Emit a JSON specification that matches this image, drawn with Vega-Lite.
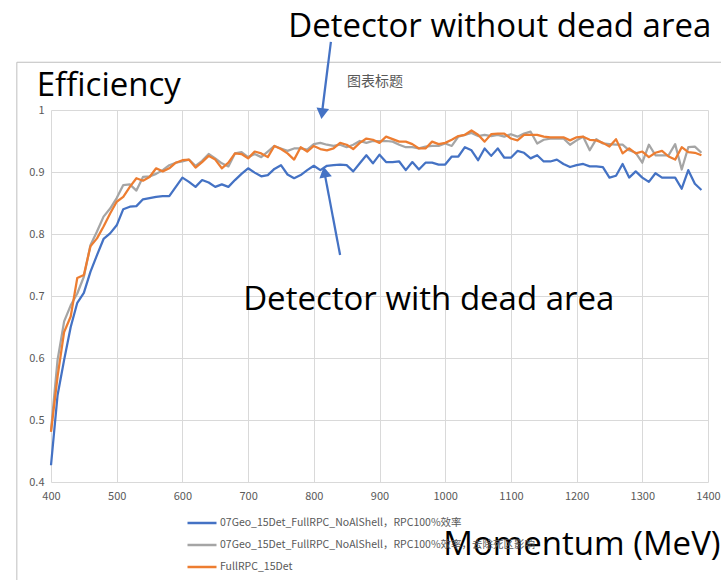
{
  "$schema": "https://vega.github.io/schema/vega-lite/v6.json",
  "width": 657,
  "height": 372,
  "autosize": {"type": "none"},
  "padding": {"left": 51, "top": 110, "right": 13, "bottom": 98},
  "background": "white",
  "config": {
    "view": {"stroke": null},
    "axis": {"gridColor": "#D9D9D9", "gridWidth": 1, "domain": false, "ticks": false, "labelColor": "#595959", "labelFont": "Noto Sans CJK SC", "labelFontSize": 11, "title": null, "labelFlush": false}
  },
  "layer": [
    {
      "data": {"values": [{"x1": 348, "x2": 1450, "y1": 1.077, "y2": 0.15}]},
      "mark": {"type": "rect", "fill": null, "stroke": "#BFBFBF", "strokeWidth": 1, "clip": false},
      "encoding": {
        "x": {"field": "x1", "type": "quantitative"},
        "x2": {"field": "x2"},
        "y": {"field": "y1", "type": "quantitative"},
        "y2": {"field": "y2"}
      }
    },
    {
      "data": {"values": [
{"p":400,"blue":0.427,"gray":0.483,"orange":0.481},
{"p":410,"blue":0.540,"gray":0.597,"orange":0.570},
{"p":420,"blue":0.597,"gray":0.659,"orange":0.642},
{"p":430,"blue":0.650,"gray":0.685,"orange":0.667},
{"p":440,"blue":0.689,"gray":0.704,"orange":0.729},
{"p":450,"blue":0.705,"gray":0.731,"orange":0.734},
{"p":460,"blue":0.739,"gray":0.782,"orange":0.780},
{"p":470,"blue":0.766,"gray":0.804,"orange":0.793},
{"p":480,"blue":0.792,"gray":0.828,"orange":0.812},
{"p":490,"blue":0.801,"gray":0.841,"orange":0.833},
{"p":500,"blue":0.814,"gray":0.858,"orange":0.852},
{"p":510,"blue":0.840,"gray":0.879,"orange":0.860},
{"p":520,"blue":0.844,"gray":0.880,"orange":0.876},
{"p":530,"blue":0.845,"gray":0.870,"orange":0.890},
{"p":540,"blue":0.856,"gray":0.892,"orange":0.886},
{"p":550,"blue":0.858,"gray":0.893,"orange":0.892},
{"p":560,"blue":0.860,"gray":0.897,"orange":0.906},
{"p":570,"blue":0.861,"gray":0.903,"orange":0.901},
{"p":580,"blue":0.861,"gray":0.911,"orange":0.906},
{"p":590,"blue":0.876,"gray":0.915,"orange":0.915},
{"p":600,"blue":0.891,"gray":0.917,"orange":0.919},
{"p":610,"blue":0.884,"gray":0.920,"orange":0.920},
{"p":620,"blue":0.876,"gray":0.910,"orange":0.907},
{"p":630,"blue":0.887,"gray":0.918,"orange":0.916},
{"p":640,"blue":0.883,"gray":0.929,"orange":0.926},
{"p":650,"blue":0.876,"gray":0.922,"orange":0.920},
{"p":660,"blue":0.880,"gray":0.914,"orange":0.906},
{"p":670,"blue":0.876,"gray":0.909,"orange":0.915},
{"p":680,"blue":0.887,"gray":0.930,"orange":0.930},
{"p":690,"blue":0.897,"gray":0.932,"orange":0.929},
{"p":700,"blue":0.906,"gray":0.924,"orange":0.922},
{"p":710,"blue":0.899,"gray":0.929,"orange":0.933},
{"p":720,"blue":0.893,"gray":0.924,"orange":0.930},
{"p":730,"blue":0.895,"gray":0.933,"orange":0.924},
{"p":740,"blue":0.905,"gray":0.942,"orange":0.942},
{"p":750,"blue":0.911,"gray":0.938,"orange":0.937},
{"p":760,"blue":0.896,"gray":0.934,"orange":0.930},
{"p":770,"blue":0.890,"gray":0.938,"orange":0.920},
{"p":780,"blue":0.895,"gray":0.938,"orange":0.940},
{"p":790,"blue":0.903,"gray":0.936,"orange":0.933},
{"p":800,"blue":0.910,"gray":0.945,"orange":0.942},
{"p":810,"blue":0.903,"gray":0.947,"orange":0.937},
{"p":820,"blue":0.910,"gray":0.944,"orange":0.935},
{"p":830,"blue":0.911,"gray":0.942,"orange":0.938},
{"p":840,"blue":0.912,"gray":0.944,"orange":0.947},
{"p":850,"blue":0.911,"gray":0.940,"orange":0.944},
{"p":860,"blue":0.901,"gray":0.944,"orange":0.937},
{"p":870,"blue":0.914,"gray":0.950,"orange":0.947},
{"p":880,"blue":0.927,"gray":0.947,"orange":0.954},
{"p":890,"blue":0.914,"gray":0.950,"orange":0.952},
{"p":900,"blue":0.928,"gray":0.950,"orange":0.947},
{"p":910,"blue":0.916,"gray":0.950,"orange":0.957},
{"p":920,"blue":0.916,"gray":0.949,"orange":0.953},
{"p":930,"blue":0.917,"gray":0.944,"orange":0.949},
{"p":940,"blue":0.903,"gray":0.940,"orange":0.949},
{"p":950,"blue":0.916,"gray":0.940,"orange":0.945},
{"p":960,"blue":0.904,"gray":0.938,"orange":0.938},
{"p":970,"blue":0.915,"gray":0.941,"orange":0.938},
{"p":980,"blue":0.915,"gray":0.942,"orange":0.949},
{"p":990,"blue":0.912,"gray":0.942,"orange":0.945},
{"p":1000,"blue":0.912,"gray":0.946,"orange":0.947},
{"p":1010,"blue":0.925,"gray":0.942,"orange":0.952},
{"p":1020,"blue":0.925,"gray":0.957,"orange":0.958},
{"p":1030,"blue":0.940,"gray":0.960,"orange":0.960},
{"p":1040,"blue":0.935,"gray":0.963,"orange":0.967},
{"p":1050,"blue":0.919,"gray":0.958,"orange":0.960},
{"p":1060,"blue":0.938,"gray":0.960,"orange":0.949},
{"p":1070,"blue":0.926,"gray":0.958,"orange":0.961},
{"p":1080,"blue":0.938,"gray":0.960,"orange":0.962},
{"p":1090,"blue":0.923,"gray":0.957,"orange":0.962},
{"p":1100,"blue":0.923,"gray":0.961,"orange":0.954},
{"p":1110,"blue":0.934,"gray":0.957,"orange":0.951},
{"p":1120,"blue":0.931,"gray":0.962,"orange":0.960},
{"p":1130,"blue":0.922,"gray":0.965,"orange":0.960},
{"p":1140,"blue":0.927,"gray":0.946,"orange":0.960},
{"p":1150,"blue":0.917,"gray":0.952,"orange":0.957},
{"p":1160,"blue":0.917,"gray":0.954,"orange":0.956},
{"p":1170,"blue":0.920,"gray":0.954,"orange":0.956},
{"p":1180,"blue":0.913,"gray":0.954,"orange":0.956},
{"p":1190,"blue":0.908,"gray":0.944,"orange":0.951},
{"p":1200,"blue":0.911,"gray":0.951,"orange":0.956},
{"p":1210,"blue":0.913,"gray":0.957,"orange":0.957},
{"p":1220,"blue":0.909,"gray":0.935,"orange":0.952},
{"p":1230,"blue":0.909,"gray":0.953,"orange":0.951},
{"p":1240,"blue":0.908,"gray":0.946,"orange":0.947},
{"p":1250,"blue":0.891,"gray":0.945,"orange":0.941},
{"p":1260,"blue":0.894,"gray":0.944,"orange":0.953},
{"p":1270,"blue":0.913,"gray":0.944,"orange":0.930},
{"p":1280,"blue":0.891,"gray":0.935,"orange":0.938},
{"p":1290,"blue":0.901,"gray":0.931,"orange":0.930},
{"p":1300,"blue":0.891,"gray":0.915,"orange":0.933},
{"p":1310,"blue":0.884,"gray":0.944,"orange":0.924},
{"p":1320,"blue":0.898,"gray":0.927,"orange":0.931},
{"p":1330,"blue":0.891,"gray":0.927,"orange":0.934},
{"p":1340,"blue":0.891,"gray":0.927,"orange":0.925},
{"p":1350,"blue":0.891,"gray":0.945,"orange":0.920},
{"p":1360,"blue":0.873,"gray":0.904,"orange":0.940},
{"p":1370,"blue":0.903,"gray":0.940,"orange":0.932},
{"p":1380,"blue":0.881,"gray":0.941,"orange":0.931},
{"p":1390,"blue":0.871,"gray":0.931,"orange":0.927}
      ]},
      "transform": [{"fold": ["blue", "gray", "orange"], "as": ["series", "eff"]}],
      "mark": {"type": "line", "strokeWidth": 2.25, "strokeJoin": "round"},
      "encoding": {
        "x": {"field": "p", "type": "quantitative", "scale": {"domain": [400, 1400], "nice": false, "zero": false},
              "axis": {"values": [400,500,600,700,800,900,1000,1100,1200,1300,1400], "format": "d", "labelPadding": 8, "grid": true}},
        "y": {"field": "eff", "type": "quantitative", "scale": {"domain": [0.4, 1], "nice": false, "zero": false},
              "axis": {"values": [0.4,0.5,0.6,0.7,0.8,0.9,1], "format": ".1~f", "labelPadding": 7, "grid": true}},
        "color": {"field": "series", "type": "nominal",
          "scale": {"domain": ["blue", "gray", "orange"], "range": ["#4472C4", "#A5A5A5", "#ED7D31"]},
          "legend": {
            "title": null, "orient": "none", "legendX": 135, "legendY": 397, "direction": "vertical",
            "symbolType": "stroke", "symbolSize": 841, "symbolStrokeWidth": 2.5,
            "labelFont": "Noto Sans CJK SC", "labelFontSize": 10.5, "labelColor": "#595959", "labelOffset": 2,
            "rowPadding": -8,
            "labelExpr": "datum.label == 'blue' ? '07Geo_15Det_FullRPC_NoAlShell，RPC100%效率' : datum.label == 'gray' ? '07Geo_15Det_FullRPC_NoAlShell，RPC100%效率，去除死区影响' : 'FullRPC_15Det'",
            "labelLimit": 400
          }}
      }
    },
    {
      "data": {"values": [{"x1": 826, "y1": 1.11, "x2": 813, "y2": 1.0}, {"x1": 840, "y1": 0.766, "x2": 817, "y2": 0.895}]},
      "mark": {"type": "rule", "color": "#4472C4", "strokeWidth": 2.25, "clip": false},
      "encoding": {
        "x": {"field": "x1", "type": "quantitative"},
        "y": {"field": "y1", "type": "quantitative"},
        "x2": {"field": "x2"},
        "y2": {"field": "y2"}
      }
    },
    {
      "data": {"values": [{"x": 813, "y": 0.997, "dir": "down"}]},
      "mark": {"type": "point", "shape": "triangle", "filled": true, "color": "#4472C4", "opacity": 1, "size": 160, "angle": 187, "clip": false},
      "encoding": {"x": {"field": "x", "type": "quantitative"}, "y": {"field": "y", "type": "quantitative"}}
    },
    {
      "data": {"values": [{"x": 817, "y": 0.897, "dir": "up"}]},
      "mark": {"type": "point", "shape": "triangle", "filled": true, "color": "#4472C4", "opacity": 1, "size": 160, "angle": 350, "clip": false},
      "encoding": {"x": {"field": "x", "type": "quantitative"}, "y": {"field": "y", "type": "quantitative"}}
    },
    {
      "data": {"values": [
        {"t": "Detector without dead area", "x": 1083, "y": 1.134},
        {"t": "Efficiency", "x": 488, "y": 1.039},
        {"t": "Detector with dead area", "x": 975, "y": 0.694}
      ]},
      "mark": {"type": "text", "font": "Open Sans", "fontSize": 33, "color": "black", "align": "center", "baseline": "middle", "clip": false},
      "encoding": {"x": {"field": "x", "type": "quantitative"}, "y": {"field": "y", "type": "quantitative"}, "text": {"field": "t"}}
    },
    {
      "data": {"values": [{"t": "Momentum (MeV)", "x": 997, "y": 0.298}]},
      "mark": {"type": "text", "font": "Open Sans", "fontSize": 33, "color": "black", "align": "left", "baseline": "middle", "clip": false},
      "encoding": {"x": {"field": "x", "type": "quantitative"}, "y": {"field": "y", "type": "quantitative"}, "text": {"field": "t"}}
    },
    {
      "data": {"values": [{"t": "图表标题", "x": 893, "y": 1.045}]},
      "mark": {"type": "text", "font": "Noto Sans CJK SC", "fontSize": 14, "color": "#595959", "align": "center", "baseline": "middle", "clip": false},
      "encoding": {"x": {"field": "x", "type": "quantitative"}, "y": {"field": "y", "type": "quantitative"}, "text": {"field": "t"}}
    }
  ]
}
